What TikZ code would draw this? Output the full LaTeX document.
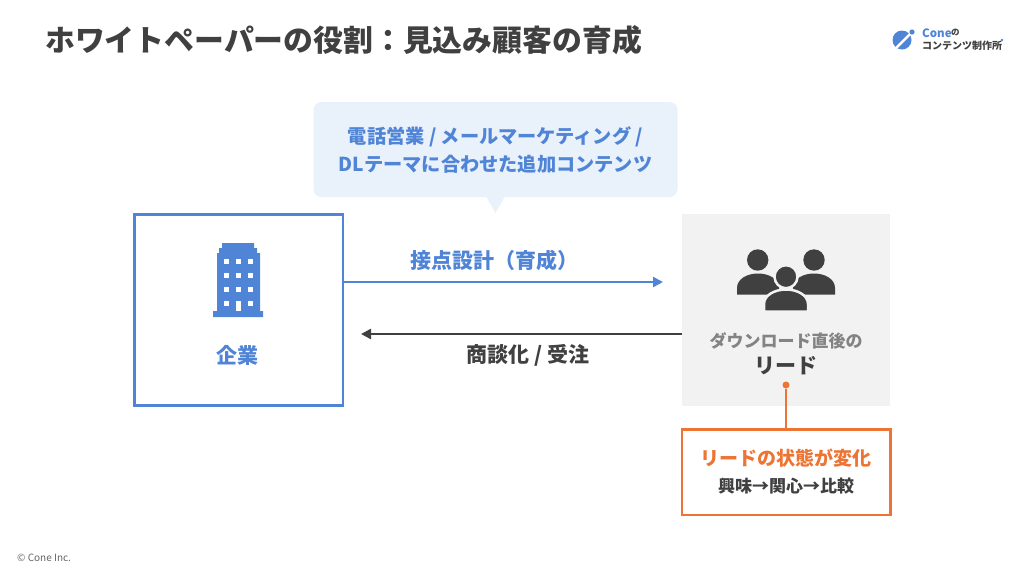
\documentclass[tikz,border=0pt]{standalone}
\usepackage{fontspec}
\setmainfont{Noto Sans CJK JP}
\usetikzlibrary{arrows.meta}
\definecolor{coneblue}{HTML}{4F84D6}
\definecolor{conedark}{HTML}{404040}
\definecolor{coneorange}{HTML}{EE7434}
\definecolor{conepale}{HTML}{E9F1FB}
\definecolor{conegray}{HTML}{F2F2F2}
\newcommand{\fs}[1]{\fontsize{#1}{#1}\selectfont}
\tikzset{
  label/.style={inner sep=0pt, font=\bfseries\fs{#1}},
  companybox/.style={draw=coneblue, line width=2.5pt, minimum width=208.5pt, minimum height=191pt, inner sep=0pt},
  leadbox/.style={fill=conegray, minimum width=208pt, minimum height=192pt, inner sep=0pt},
  changebox/.style={draw=coneorange, line width=2.5pt, fill=white, minimum width=208.5pt, minimum height=85.5pt, inner sep=0pt},
  calloutbox/.style={fill=conepale, rounded corners=8pt, minimum width=364pt, minimum height=95pt, inner sep=0pt},
  flow/.style={line width=2.4pt, -{Triangle[length=10pt, width=10pt]}}
}
\begin{document}
\begin{tikzpicture}[x=1pt, y=-1pt]
  \useasboundingbox (0,0) rectangle (1024,576);
  % Title and footer
  \node[label=29.85, text=conedark, anchor=west] (title) at (45,40) {ホワイトペーパーの役割：見込み顧客の育成};
  \node[inner sep=0pt, font=\fs{10}, text=conedark!80, anchor=west] (footer) at (17,558) {© Cone Inc.};
  % Logo
  \fill[coneblue] (902,40) circle (9.5);
  \draw[white, line width=2.5pt] (913,31) -- (895,49);
  \fill[coneblue] (912,32) circle (2.6);
  \node[label=11.5, text=coneblue, anchor=west] (conename) at (922,33) {Cone};
  \node[label=8.5, text=conedark, anchor=west] (coneno) at (951,33) {の};
  \node[label=10, text=conedark, anchor=west] (conesub) at (922,46) {コンテンツ制作所};
  \fill[coneblue] (1002,40) circle (1.3);
  % Boxes
  \node[companybox] (company) at (238.5,310) {};
  \node[leadbox] (lead) at (786,310) {};
  \node[changebox] (change) at (786,472) {};
  % Callout
  \fill[conepale] (486,196) -- (505,196) -- (495.5,213) -- cycle;
  \node[calloutbox] (callout) at (495.5,149.5) {};
  \node[label=19.2, text=coneblue] (calloutone) at (495.5,137) {電話営業 / メールマーケティング /};
  \node[label=19.2, text=coneblue] (callouttwo) at (495.5,164) {DLテーマに合わせた追加コンテンツ};
  % Building
  \fill[coneblue] (217,253) -- (219,253) -- (219,248) -- (222,248) -- (222,243) -- (254,243)
    -- (254,248) -- (257,248) -- (257,253) -- (260,253) -- (260,311) -- (263,311) -- (263,317)
    -- (213,317) -- (213,311) -- (217,311) -- cycle;
  \foreach \wy in {258.5,273,287,301}
    \foreach \wx in {223.5,235.5,248}
      \fill[white] (\wx,\wy) rectangle +(5,5);
  \fill[white] (235.5,306) rectangle (240.5,311);
  \node[label=21, text=coneblue] (companytext) at (237.5,355) {企業};
  % People
  \fill[conedark] (737,294.5) -- (737,288) .. controls (737,279) and (747,273.5) .. (758,273.5)
    .. controls (769,273.5) and (779,279) .. (779,288) -- (779,294.5) -- cycle;
  \fill[conedark] (793,294.5) -- (793,288) .. controls (793,279) and (803,273.5) .. (814,273.5)
    .. controls (825,273.5) and (835,279) .. (835,288) -- (835,294.5) -- cycle;
  \fill[conedark] (757.7,260) circle (10.7);
  \fill[conedark] (814,260) circle (10.7);
  \filldraw[conedark, draw=conegray, line width=2.5pt] (786,276.7) circle (11.5);
  \filldraw[conedark, draw=conegray, line width=2.5pt] (764,311.5) -- (764,304) .. controls (764,295) and (775,289.5) .. (786,289.5)
    .. controls (797,289.5) and (808,295) .. (808,304) -- (808,311.5) -- cycle;
  \node[label=17, text=conedark!65] (leadtop) at (786,341) {ダウンロード直後の};
  \node[label=21, text=conedark] (leadtext) at (786,366) {リード};
  % Flows
  \coordinate (nurtureend) at (663,282);
  \coordinate (dealend) at (361,334);
  \draw[flow, coneblue] (nurtureend -| company.east) -- (nurtureend);
  \draw[flow, conedark] (dealend -| lead.west) -- (dealend);
  \node[label=21, text=coneblue] (nurture) at (494,260) {接点設計（育成）};
  \node[label=21, text=conedark] (deal) at (528,355) {商談化 / 受注};
  % Lead state
  \node[circle, fill=coneorange, minimum size=7pt, inner sep=0pt] (leaddot) at (786,385) {};
  \draw[coneorange, line width=2.5pt] (leaddot) -- (change);
  \node[label=19, text=coneorange] (changeone) at (786,458) {リードの状態が変化};
  \node[label=17, text=conedark] (changetwo) at (786,486) {興味→関心→比較};
\end{tikzpicture}
\end{document}
